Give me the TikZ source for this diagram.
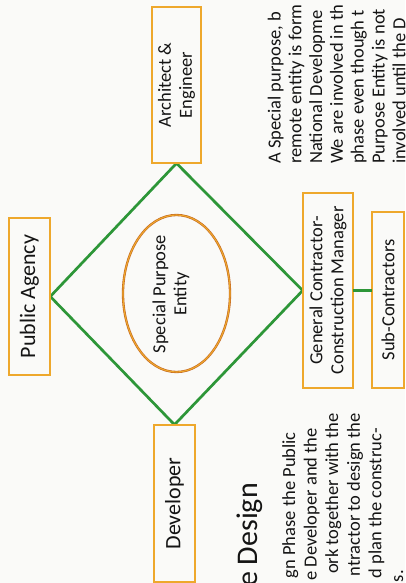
\documentclass[tikz,border=0pt]{standalone}
\usepackage{fontspec}
\setmainfont{Carlito}
\usetikzlibrary{shapes.geometric}
\definecolor{paper}{RGB}{250,250,248}
\definecolor{boxedge}{RGB}{196,104,34}
\definecolor{boxcore}{RGB}{238,168,44}
\definecolor{linkgreen}{RGB}{45,150,56}
\definecolor{ink}{RGB}{20,20,20}
\pgfdeclarelayer{back}
\pgfsetlayers{back,main}
\newcommand{\boxfont}{\fontsize{18.5pt}{21pt}\selectfont}
\newcommand{\bigboxfont}{\fontsize{22pt}{26pt}\selectfont}
\newcommand{\bodyfont}{\fontsize{18.5pt}{21pt}\selectfont}
\newcommand{\headfont}{\fontsize{30pt}{34pt}\selectfont}
\begin{document}
\begin{tikzpicture}[x=1pt,y=-1pt,
  rim/.style={draw=boxedge, double=boxcore, double distance=1.1pt, line width=0.6pt},
  box/.style={rim, fill=paper, rotate=90,
    inner sep=0pt, align=center, text=ink, font=\boxfont},
  link/.style={draw=linkgreen, line width=2.7pt},
  paraline/.style={rotate=90, inner sep=0pt, text=ink, font=\bodyfont},
  lineup/.style={paraline, anchor=base west},
  lineend/.style={paraline, anchor=base east}]
\useasboundingbox (0,0) rectangle (405,583);
\clip (0,0) rectangle (405,583);

% parties around the entity
\node[box, minimum width=156pt, minimum height=49pt] (arch) at (176.5,85) {Architect \&\\Engineer};
\node[box, minimum width=157pt, minimum height=41pt, font=\bigboxfont] (pa) at (29.5,296.5) {Public Agency};
\node[box, minimum width=157pt, minimum height=41pt, font=\bigboxfont] (dev) at (174.5,503.5) {Developer};
\node[box, minimum width=195pt, minimum height=50pt] (gc) at (328,290.5) {General Contractor-\\Construction Manager};
\node[box, minimum width=176pt, minimum height=32pt] (sub) at (388,300) {Sub-Contractors};

% the special purpose entity in the middle
\node[rim, ellipse, minimum width=107pt, minimum height=157pt, inner sep=0pt] (spe) at (176.5,293.5) {};
\node[rotate=90, align=center, text=ink, font=\boxfont, inner sep=0pt] (spelabel) at (171,294) {Special Purpose\\Entity};

\begin{pgfonlayer}{back}
  \fill[paper] (0,0) rectangle (405,583);
  \draw[link, line join=round] (arch.west) -- (pa.south) -- (dev.east) -- (gc.north) -- cycle;
\end{pgfonlayer}
\draw[link, line width=2.2pt] (gc.south) -- (gc.south -| sub.north);

% surrounding page text
\node[lineup] (r1) at (280.5,164) {A Special purpose, b};
\node[lineup] (r2) at (301.3,164) {remote entity is form};
\node[lineup] (r3) at (322.1,164) {National Developme};
\node[lineup] (r4) at (342.9,164) {We are involved in th};
\node[lineup] (r5) at (363.7,164) {phase even though t};
\node[lineup] (r6) at (384.5,164) {Purpose Entity is not};
\node[lineup] (r7) at (405.3,164) {involved until the D};

\node[lineend, font=\headfont] (head) at (257,483) {e Design};
\node[lineend] (b1) at (295,432) {gn Phase the Public};
\node[lineend] (b2) at (316.6,428) {e Developer and the};
\node[lineend] (b3) at (338.2,413) {ork together with the};
\node[lineend] (b4) at (359.8,413) {ntractor to design the};
\node[lineend] (b5) at (381.4,428) {d plan the construc-};
\node[lineend] (b6) at (403,570) {s.};
\end{tikzpicture}
\end{document}
